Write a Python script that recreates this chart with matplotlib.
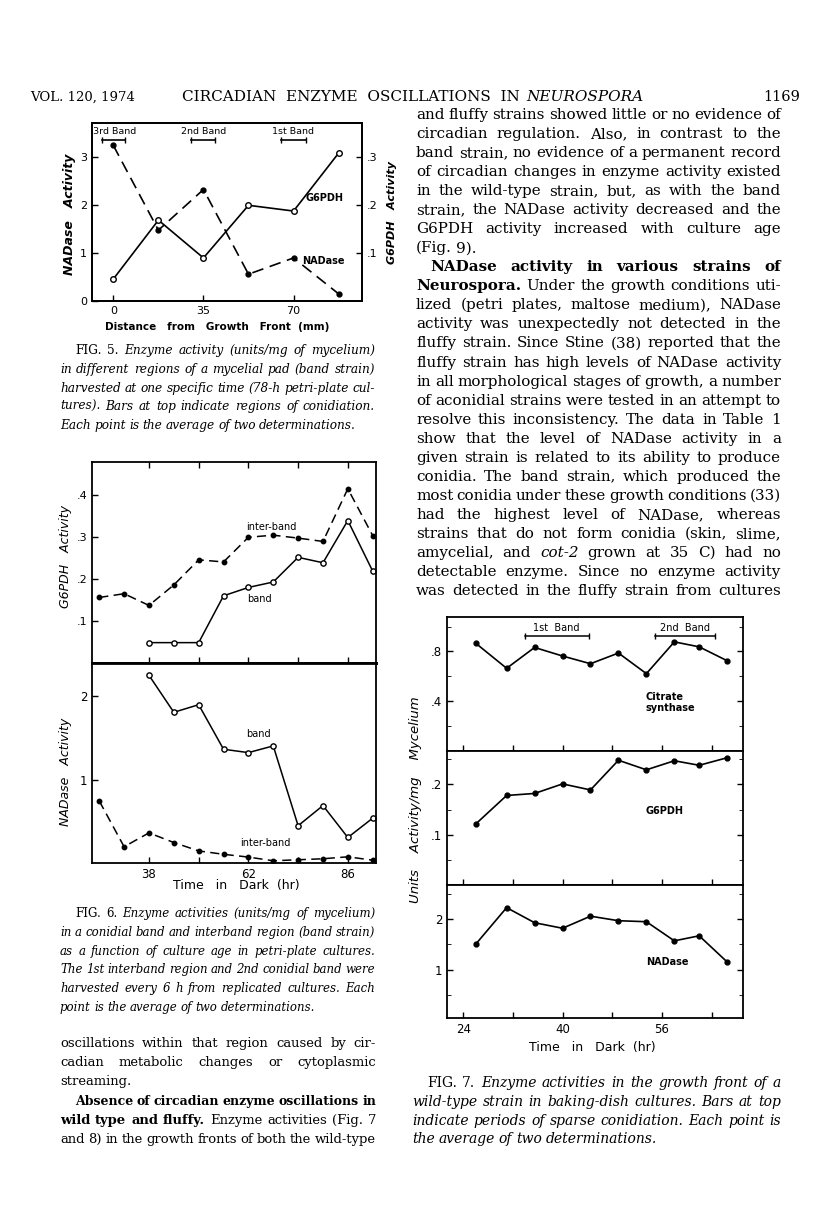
import numpy as np
import matplotlib
matplotlib.use("Agg")
import matplotlib.pyplot as plt

W, H = 816, 1225
SERIF = "DejaVu Serif"
SANS = "DejaVu Sans"

# ---- Fig. 5 data (band strain, one harvest time) ----
fig5_dist = [0, 17.5, 35, 52.5, 70, 87.5]
fig5_nadase = [3.25, 1.48, 2.33, 0.56, 0.90, 0.15]
fig5_g6pdh = [0.046, 0.169, 0.090, 0.200, 0.188, 0.309]
fig5_band_names = ["3rd Band", "2nd Band", "1st Band"]
fig5_band_start = [-4.4, 30.2, 65.1]
fig5_band_end = [4.6, 39.3, 74.9]
fig5_band_label_x = [0.5, 35.2, 69.8]

# ---- Fig. 6 data (band / interband vs time) ----
fig6_time = [26, 32, 38, 44, 50, 56, 62, 68, 74, 80, 86, 92]
fig6_band_time = [38, 44, 50, 56, 62, 68, 74, 80, 86, 92]
fig6_g6pdh_inter = [0.156, 0.165, 0.137, 0.186, 0.246, 0.241, 0.300, 0.305, 0.298, 0.290, 0.416, 0.304]
fig6_g6pdh_band = [0.048, 0.048, 0.048, 0.160, 0.180, 0.193, 0.252, 0.239, 0.340, 0.219]
fig6_nadase_inter = [0.755, 0.21, 0.375, 0.26, 0.16, 0.12, 0.087, 0.043, 0.055, 0.067, 0.09, 0.05]
fig6_nadase_band = [2.25, 1.81, 1.90, 1.37, 1.33, 1.41, 0.46, 0.70, 0.32, 0.55]

# ---- Fig. 7 data (wild type growth front) ----
fig7_time = [26, 31, 35.5, 40, 44.5, 49, 53.5, 58, 62, 66.5]
fig7_citrate = [0.867, 0.664, 0.832, 0.763, 0.701, 0.787, 0.621, 0.877, 0.837, 0.725]
fig7_g6pdh = [0.121, 0.178, 0.182, 0.201, 0.189, 0.248, 0.229, 0.247, 0.238, 0.253]
fig7_nadase = [1.50, 2.23, 1.93, 1.82, 2.06, 1.97, 1.95, 1.57, 1.67, 1.15]
fig7_band_names = ["1st  Band", "2nd  Band"]
fig7_band_start = [33.9, 54.9]
fig7_band_end = [44.2, 64.5]

# ---- page text ----
right_col = [
    ("and fluffy strains showed little or no evidence of", 416, True),
    ("circadian regulation. Also, in contrast to the", 416, True),
    ("band strain, no evidence of a permanent record", 416, True),
    ("of circadian changes in enzyme activity existed", 416, True),
    ("in the wild-type strain, but, as with the band", 416, True),
    ("strain, the NADase activity decreased and the", 416, True),
    ("G6PDH activity increased with culture age", 416, True),
    ("(Fig. 9).", 416, False),
    ("*NADase *activity *in *various *strains *of", 430, True),
    ("*Neurospora. Under the growth conditions uti-", 416, True),
    ("lized (petri plates, maltose medium), NADase", 416, True),
    ("activity was unexpectedly not detected in the", 416, True),
    ("fluffy strain. Since Stine (38) reported that the", 416, True),
    ("fluffy strain has high levels of NADase activity", 416, True),
    ("in all morphological stages of growth, a number", 416, True),
    ("of aconidial strains were tested in an attempt to", 416, True),
    ("resolve this inconsistency. The data in Table 1", 416, True),
    ("show that the level of NADase activity in a", 416, True),
    ("given strain is related to its ability to produce", 416, True),
    ("conidia. The band strain, which produced the", 416, True),
    ("most conidia under these growth conditions (33)", 416, True),
    ("had the highest level of NADase, whereas", 416, True),
    ("strains that do not form conidia (skin, slime,", 416, True),
    ("amycelial, and ~cot-2 grown at 35 C) had no", 416, True),
    ("detectable enzyme. Since no enzyme activity", 416, True),
    ("was detected in the fluffy strain from cultures", 416, True),
]
left_col = [
    ("oscillations within that region caused by cir-", 60, True),
    ("cadian metabolic changes or cytoplasmic", 60, True),
    ("streaming.", 60, False),
    ("*Absence *of *circadian *enzyme *oscillations *in", 75, True),
    ("*wild *type *and *fluffy. Enzyme activities (Fig. 7", 60, True),
    ("and 8) in the growth fronts of both the wild-type", 60, True),
]
cap5 = [
    ("^FIG. ^5. Enzyme activity (units/mg of mycelium)", 75, True),
    ("in different regions of a mycelial pad (band strain)", 60, True),
    ("harvested at one specific time (78-h petri-plate cul-", 60, True),
    ("tures). Bars at top indicate regions of conidiation.", 60, True),
    ("Each point is the average of two determinations.", 60, False),
]
cap6 = [
    ("^FIG. ^6. Enzyme activities (units/mg of mycelium)", 75, True),
    ("in a conidial band and interband region (band strain)", 60, True),
    ("as a function of culture age in petri-plate cultures.", 60, True),
    ("The 1st interband region and 2nd conidial band were", 60, True),
    ("harvested every 6 h from replicated cultures. Each", 60, True),
    ("point is the average of two determinations.", 60, False),
]
cap7 = [
    ("^FIG. ^7. Enzyme activities in the growth front of a", 427, True),
    ("wild-type strain in baking-dish cultures. Bars at top", 412, True),
    ("indicate periods of sparse conidiation. Each point is", 412, True),
    ("the average of two determinations.", 412, False),
]

fig = plt.figure(figsize=(W / 100, H / 100), dpi=100)
renderer = fig.canvas.get_renderer()


def ax_at(x0, y0, x1, y1):
    return fig.add_axes([x0 / W, 1 - y1 / H, (x1 - x0) / W, (y1 - y0) / H])


def put(x, y, s, **kw):
    return fig.text(x / W, 1 - y / H, s, **kw)


def make_words(text, y, size, base):
    objs = []
    for w in text.split():
        weight, style = "normal", base
        if w.startswith("*"):
            weight, w = "bold", w[1:]
        if w.startswith("~"):
            style, w = "italic", w[1:]
        if w.startswith("^"):
            style, w = "normal", w[1:]
        objs.append(put(0, y, w, fontsize=size, family=SERIF, weight=weight,
                        style=style, va="baseline", ha="left"))
    return objs


def widths_of(objs):
    return [t.get_window_extent(renderer).width for t in objs]


def block(lines, x1, y_first, step, size, base="normal", min_gap=3.5):
    # one common size for the block, small enough that every plain line fits
    rows = []
    scale = 1.0
    for i, (txt, x0, just) in enumerate(lines):
        objs = make_words(txt, y_first + i * step, size, base)
        ws = widths_of(objs)
        rows.append((objs, x0, just, "*" in txt))
        if just and "*" not in txt and len(objs) > 1:
            need = (x1 - x0 - min_gap * (len(objs) - 1)) / sum(ws)
            scale = min(scale, need)
    for objs, x0, just, bold in rows:
        for t in objs:
            t.set_fontsize(size * scale)
        ws = widths_of(objs)
        n = len(objs)
        if just and bold and n > 1:
            # bold headings: shrink only if they would not fit
            need = (x1 - x0 - min_gap * (n - 1)) / sum(ws)
            if need < 1:
                for t in objs:
                    t.set_fontsize(size * scale * need)
                ws = widths_of(objs)
        gap = size * scale * 100 / 72 * 0.28
        if just and n > 1:
            gap = (x1 - x0 - sum(ws)) / (n - 1)
        x = x0
        for t, wd in zip(objs, ws):
            t.set_x(x / W)
            x += wd + gap


def style_ax(ax, size=8):
    ax.tick_params(direction="in", length=4, width=1, labelsize=size)
    for t in ax.get_xticklabels() + ax.get_yticklabels():
        t.set_family(SANS)
    for s in ax.spines.values():
        s.set_linewidth(1.3)


# header
put(30, 101, "VOL. 120, 1974", fontsize=9.5, family=SERIF, va="baseline")
put(520, 101, "CIRCADIAN  ENZYME  OSCILLATIONS  IN", fontsize=11, family=SERIF,
    va="baseline", ha="right")
put(526, 101, "NEUROSPORA", fontsize=11, family=SERIF, style="italic", va="baseline")
put(800, 101, "1169", fontsize=10.5, family=SERIF, va="baseline", ha="right")

# ---------------- Fig. 5 ----------------
ax5 = ax_at(92, 123, 362, 301)
ax5.set_xlim(-8.3, 96.6)
ax5.set_ylim(0, 3.72)
ax5.plot(fig5_dist, fig5_nadase, color="k", lw=1.2, ls=(0, (7, 4)),
         marker="o", ms=3.5, mfc="k", mec="k")
ax5.set_xticks([0, 35, 70])
ax5.set_yticks([0, 1, 2, 3])
style_ax(ax5)
ax5r = ax5.twinx()
ax5r.set_ylim(0, 0.372)
ax5r.plot(fig5_dist, fig5_g6pdh, color="k", lw=1.2, marker="o", ms=4,
          mfc="white", mec="k")
ax5r.set_yticks([0.1, 0.2, 0.3])
ax5r.set_yticklabels([".1", ".2", ".3"])
style_ax(ax5r)
for name, a, b, lx in zip(fig5_band_names, fig5_band_start, fig5_band_end,
                          fig5_band_label_x):
    ax5.plot([a, b], [3.36, 3.36], color="k", lw=1.2, marker="|", ms=5)
    ax5.text(lx, 3.45, name, ha="center", va="bottom", fontsize=6.8,
             family=SANS)
ax5.text(82, 2.15, "G6PDH", ha="center", va="center", fontsize=7, family=SANS,
         weight="bold")
ax5.text(81.7, 0.83, "NADase", ha="center", va="center", fontsize=7,
         family=SANS, weight="bold")
put(70, 214, "NADase   Activity", rotation=90, ha="center", va="center",
    fontsize=9, family=SANS, style="italic", weight="bold")
put(392, 213, "G6PDH   Activity", rotation=90, ha="center", va="center",
    fontsize=8, family=SANS, style="italic", weight="bold")
put(217, 327, "Distance   from   Growth   Front  (mm)", ha="center", va="center",
    fontsize=7.5, family=SANS, weight="bold")
block(cap5, 375, 354, 18.8, 10, base="italic")

# ---------------- Fig. 6 ----------------
ax6a = ax_at(92, 462, 376, 662.7)
ax6b = ax_at(92, 662.7, 376, 862.7)
for ax in (ax6a, ax6b):
    ax.set_xlim(24.25, 92.8)
    ax.set_xticks([38, 50, 62, 74, 86])
ax6a.plot(fig6_time, fig6_g6pdh_inter, color="k", lw=1.1, ls=(0, (6, 3.5)),
          marker="o", ms=3.2, mfc="k", mec="k")
ax6a.plot(fig6_band_time, fig6_g6pdh_band, color="k", lw=1.1, marker="o",
          ms=3.8, mfc="white", mec="k")
ax6a.set_ylim(0, 0.48)
ax6a.set_yticks([0.1, 0.2, 0.3, 0.4])
ax6a.set_yticklabels([".1", ".2", ".3", ".4"])
ax6a.tick_params(top=True, labelbottom=False)
ax6a.text(67.5, 0.325, "inter-band", ha="center", va="center", fontsize=7,
          family=SANS)
ax6a.text(64.6, 0.152, "band", ha="center", va="center", fontsize=7, family=SANS)
ax6b.plot(fig6_time, fig6_nadase_inter, color="k", lw=1.1, ls=(0, (6, 3.5)),
          marker="o", ms=3.2, mfc="k", mec="k")
ax6b.plot(fig6_band_time, fig6_nadase_band, color="k", lw=1.1, marker="o",
          ms=3.8, mfc="white", mec="k")
ax6b.set_ylim(0.02, 2.40)
ax6b.set_yticks([1, 2])
ax6b.set_xticklabels(["38", "", "62", "", "86"])
ax6b.text(64.5, 1.55, "band", ha="center", va="center", fontsize=7, family=SANS)
ax6b.text(66.1, 0.25, "inter-band", ha="center", va="center", fontsize=7,
          family=SANS)
style_ax(ax6a)
style_ax(ax6b, 8.5)
ax6a.spines["bottom"].set_linewidth(2)
ax6b.spines["top"].set_linewidth(2)
put(66, 556, "G6PDH   Activity", rotation=90, ha="center", va="center",
    fontsize=9, family=SANS, style="italic")
put(66, 772, "NADase   Activity", rotation=90, ha="center", va="center",
    fontsize=9, family=SANS, style="italic")
put(236, 885, "Time   in   Dark  (hr)", ha="center", va="center", fontsize=9,
    family=SANS)
block(cap6, 375, 917, 18.8, 10, base="italic")

# left column body text
block(left_col, 376, 1047, 19.2, 11)

# ---------------- Fig. 7 ----------------
ax7c = ax_at(447, 617.3, 743.3, 750.7)
ax7g = ax_at(447, 750.7, 743.3, 885)
ax7n = ax_at(447, 885, 743.3, 1018.3)
for ax in (ax7c, ax7g, ax7n):
    ax.set_xlim(21.4, 69.1)
    ax.set_xticks([24, 32, 40, 48, 56, 64])
    ax.tick_params(right=True, which="both")
ax7c.plot(fig7_time, fig7_citrate, color="k", lw=1.2, marker="o", ms=3.5,
          mfc="k")
ax7c.set_ylim(0, 1.075)
ax7c.set_yticks([0.4, 0.8])
ax7c.set_yticklabels([".4", ".8"])
ax7c.set_yticks([0.2, 0.6, 1.0], minor=True)
ax7g.plot(fig7_time, fig7_g6pdh, color="k", lw=1.2, marker="o", ms=3.5,
          mfc="k")
ax7g.set_ylim(0, 0.267)
ax7g.set_yticks([0.1, 0.2])
ax7g.set_yticklabels([".1", ".2"])
ax7g.set_yticks([0.05, 0.15, 0.25], minor=True)
ax7n.plot(fig7_time, fig7_nadase, color="k", lw=1.2, marker="o", ms=3.5,
          mfc="k")
ax7n.set_ylim(0.03, 2.68)
ax7n.set_yticks([1, 2])
ax7n.set_yticks([0.5, 1.5, 2.5], minor=True)
ax7n.set_xticklabels(["24", "", "40", "", "56", ""])
for ax in (ax7c, ax7g):
    ax.tick_params(labelbottom=False)
for ax in (ax7c, ax7g, ax7n):
    style_ax(ax, 8.5)
    ax.tick_params(which="minor", direction="in", length=3, right=True)
for name, a, b in zip(fig7_band_names, fig7_band_start, fig7_band_end):
    ax7c.plot([a, b], [0.925, 0.925], color="k", lw=1.1, marker="|", ms=5)
    ax7c.text((a + b) / 2, 0.95, name, ha="center", va="bottom", fontsize=7,
              family=SANS)
ax7c.text(53.4, 0.387, "Citrate\nsynthase", ha="left", va="center", fontsize=7,
          family=SANS, weight="bold", linespacing=1.2)
ax7g.text(53.4, 0.147, "G6PDH", ha="left", va="center", fontsize=7,
          family=SANS, weight="bold")
ax7n.text(53.4, 1.15, "NADase", ha="left", va="center", fontsize=7,
          family=SANS, weight="bold")
put(415, 800, "Units    Activity/mg    Mycelium", rotation=90, ha="center",
    va="center", fontsize=9.5, family=SANS, style="italic")
put(592, 1048, "Time   in   Dark  (hr)", ha="center", va="center", fontsize=9,
    family=SANS)
block(cap7, 781, 1087, 18.8, 10, base="italic")

# right column body text
block(right_col, 781, 119, 19.04, 11)

fig.savefig("out.png", dpi=100)
